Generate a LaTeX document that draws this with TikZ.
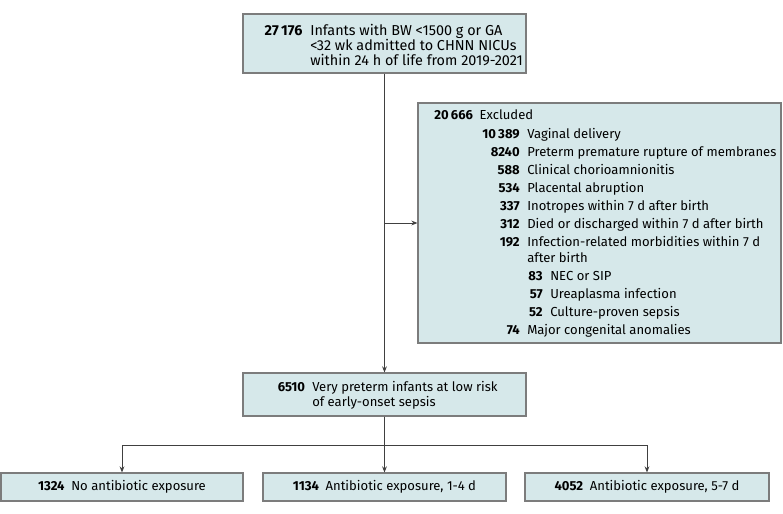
\documentclass[tikz,border=0pt]{standalone}
\usepackage{fontspec}
\setmainfont{Fira Sans}
\usetikzlibrary{arrows.meta}
\definecolor{boxfill}{HTML}{D6E8EA}
\definecolor{boxline}{HTML}{7C7C7C}
\definecolor{conn}{HTML}{404040}
\tikzset{
  box/.style={draw=boxline, fill=boxfill, line width=0.9pt, inner sep=0pt},
  txt/.style={inner sep=0pt, anchor=mid west, font=\fontsize{9.8}{11}\selectfont},
  num/.style={inner sep=0pt, anchor=mid east, font=\fontsize{9.8}{11}\selectfont\bfseries},
  toptxt/.style={txt, font=\fontsize{10.8}{12}\selectfont},
  topnum/.style={num, font=\fontsize{10.8}{12}\selectfont\bfseries},
  ctxt/.style={inner sep=0pt, font=\fontsize{9.8}{11}\selectfont},
  conline/.style={draw=conn, line width=0.75pt},
  arr/.style={conline, -{Stealth[length=4.5pt,width=3.6pt]}},
}
\begin{document}
\begin{tikzpicture}[x=0.75pt,y=-0.75pt]
\useasboundingbox (0,0) rectangle (783,514);
% boxes
\node[box, minimum width=283*0.75pt, minimum height=59*0.75pt] (top) at (384.5,43.5) {};
\node[box, minimum width=363*0.75pt, minimum height=240*0.75pt] (excl) at (599.5,223) {};
\node[box, minimum width=283*0.75pt, minimum height=43*0.75pt] (mid) at (384.5,394.5) {};
\node[box, minimum width=242*0.75pt, minimum height=28*0.75pt] (b1) at (122,487) {};
\node[box, minimum width=243*0.75pt, minimum height=28*0.75pt] (b2) at (384.5,487) {};
\node[box, minimum width=244*0.75pt, minimum height=28*0.75pt] (b3) at (647,487) {};
% top box text
\node[topnum] (n0) at (302.7,31.7) {27\,176};
\node[toptxt] (t0a) at (310,31.7) {Infants with BW <1500 g or GA};
\node[toptxt] (t0b) at (310,46.7) {<32 wk admitted to CHNN NICUs};
\node[toptxt] (t0c) at (310,62) {within 24 h of life from 2019-2021};
% excluded box text
\node[num] (ne) at (473.3,116) {20\,666};
\node[txt] (te) at (479.3,116) {Excluded};
\node[num] (ne1) at (520,134.7) {10\,389};
\node[txt] (te1) at (527,134.7) {Vaginal delivery};
\node[num] (ne2) at (520,152.7) {8240};
\node[txt] (te2) at (527,152.7) {Preterm premature rupture of membranes};
\node[num] (ne3) at (520,170.7) {588};
\node[txt] (te3) at (527,170.7) {Clinical chorioamnionitis};
\node[num] (ne4) at (520,188.7) {534};
\node[txt] (te4) at (527,188.7) {Placental abruption};
\node[num] (ne5) at (520,206.7) {337};
\node[txt] (te5) at (527,206.7) {Inotropes within 7 d after birth};
\node[num] (ne6) at (520,224.7) {312};
\node[txt] (te6) at (527,224.7) {Died or discharged within 7 d after birth};
\node[num] (ne7) at (520,242.7) {192};
\node[txt] (te7) at (527,242.7) {Infection-related morbidities within 7 d};
\node[txt] (te7b) at (527,258.7) {after birth};
\node[num] (ne8) at (543,276.7) {83};
\node[txt] (te8) at (550,276.7) {NEC or SIP};
\node[num] (ne9) at (543,294.7) {57};
\node[txt] (te9) at (550,294.7) {Ureaplasma infection};
\node[num] (ne10) at (543,312.7) {52};
\node[txt] (te10) at (550,312.7) {Culture-proven sepsis};
\node[num] (ne11) at (520,330.7) {74};
\node[txt] (te11) at (527,330.7) {Major congenital anomalies};
% middle box text
\node[num] (nm) at (305.3,388.3) {6510};
\node[txt] (tma) at (312,388.3) {Very preterm infants at low risk};
\node[txt] (tmb) at (312,403.3) {of early-onset sepsis};
% bottom boxes text
\node[ctxt] (t1) at (b1) {\textbf{1324}\hspace{5pt}No antibiotic exposure};
\node[ctxt] (t2) at (b2) {\textbf{1134}\hspace{5pt}Antibiotic exposure, 1-4 d};
\node[ctxt] (t3) at (b3) {\textbf{4052}\hspace{5pt}Antibiotic exposure, 5-7 d};
% connectors
\coordinate (j1) at (top.south |- excl.west);
\draw[arr] (top.south) -- (mid.north);
\draw[arr] (j1) -- (excl.west);
\draw[arr] (mid.south) -- (b2.north);
\draw[arr] (mid.south) -- ++(0,29) -| (b1.north);
\draw[arr] (mid.south) -- ++(0,29) -| (b3.north);
\end{tikzpicture}
\end{document}
